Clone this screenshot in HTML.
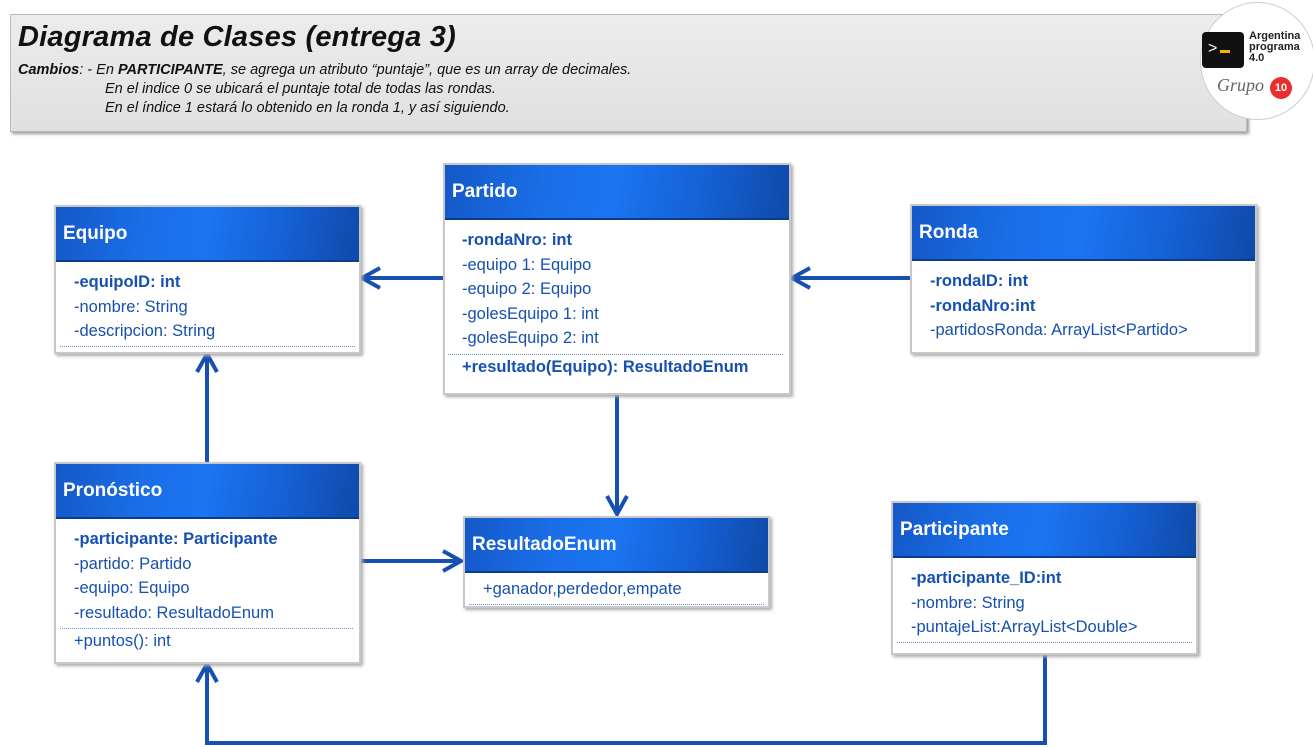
<!DOCTYPE html>
<html><head><meta charset="utf-8"><style>
body{margin:0;width:1313px;height:747px;background:#fff;position:relative;overflow:hidden;font-family:"Liberation Sans","DejaVu Sans",sans-serif}
.ban{position:absolute;left:10px;top:14px;width:1235px;height:116px;background:linear-gradient(#ececec,#e0e0e0);border:1px solid #bbb;box-shadow:2px 2px 3px #999;font-family:"Liberation Sans",sans-serif;font-style:italic}
.ban h1{margin:0;position:absolute;left:7px;top:6px;font-size:29px;font-weight:bold;color:#111;letter-spacing:0.2px}
.ban p{margin:0;position:absolute;left:7px;top:46px;font-size:14.5px;line-height:19px;color:#111}
.box{position:absolute;background:#fff;border:2px solid #c8c8c8;box-shadow:2px 2px 3px #aaa}
.hd{height:53px;background:linear-gradient(100deg,#1558c8 0%,#1a6fe8 30%,#1b74f0 50%,#1560d5 75%,#0f4aa8 100%);color:#fff;font-weight:bold;font-size:19px;line-height:54px;padding-left:7px;border-bottom:2px solid #0b3b8a}
.bd{padding:8px 0 0 18px;color:#1650b0;font-size:16.5px;line-height:24.5px;white-space:nowrap}
.b{font-weight:bold}
.sep{border-top:1px dotted #6b8fd0;margin:3px 6px 0 -14px}
.ul{border-bottom:1px dotted #6b8fd0;margin:0 4px 0 -14px;height:2px}
</style></head><body>
<div class="ban"><h1>Diagrama de Clases (entrega 3)</h1>
<p><b>Cambios</b>: - En <b>PARTICIPANTE</b>, se agrega un atributo “puntaje”, que es un array de decimales.<br>
<span style="padding-left:87px">En el indice 0 se ubicará el puntaje total de todas las rondas.</span><br>
<span style="padding-left:87px">En el índice 1 estará lo obtenido en la ronda 1, y así siguiendo.</span></p></div>
<div style="position:absolute;left:1200px;top:2px;width:113px;height:116px;border-radius:50%;background:#fff;border:1px solid #ccc"></div>
<div style="position:absolute;left:1202px;top:32px;width:42px;height:36px;background:#111;border-radius:4px;color:#fff;font-size:16px;line-height:34px;padding-left:6px;box-sizing:border-box">&gt;<span style="display:inline-block;width:10px;height:3px;background:#f6b000;margin-left:3px"></span></div>
<div style="position:absolute;left:1249px;top:31px;font-size:11px;line-height:11px;font-weight:bold;color:#222;font-family:'Liberation Sans',sans-serif">Argentina<br>programa<br>4.0</div>
<div style="position:absolute;left:1217px;top:75px;font-family:'Liberation Serif',serif;font-style:italic;font-size:18px;color:#666">Grupo</div>
<div style="position:absolute;left:1270px;top:77px;width:22px;height:22px;border-radius:50%;background:#e63030;color:#fff;font-size:11px;font-weight:bold;text-align:center;line-height:22px">10</div>

<svg style="position:absolute;left:0;top:0" width="1313" height="747">
<g stroke="#1650b0" stroke-width="4" fill="none">
<path d="M443 278H362M380 268L362 278L380 288"/>
<path d="M910 278H792M810 268L792 278L810 288"/>
<path d="M207 462V354M197 372L207 354L217 372"/>
<path d="M617 393V514M607 496L617 514L627 496"/>
<path d="M360 561H461M443 551L461 561L443 571"/>
<path d="M1045 653V743H207V664M197 682L207 664L217 682"/>
</g></svg>

<div class="box" style="left:54px;top:205px;width:303px;height:145px"><div class="hd">Equipo</div><div class="bd"><span class="b">-equipoID: int</span><br>-nombre: String<br>-descripcion: String<div class="ul"></div></div></div>
<div class="box" style="left:443px;top:163px;width:344px;height:228px"><div class="hd">Partido</div><div class="bd" style="padding-left:17px"><span class="b">-rondaNro: int</span><br>-equipo 1: Equipo<br>-equipo 2: Equipo<br>-golesEquipo 1: int<br>-golesEquipo 2: int<div class="sep"></div><span class="b">+resultado(Equipo): ResultadoEnum</span></div></div>
<div class="box" style="left:910px;top:204px;width:343px;height:146px"><div class="hd">Ronda</div><div class="bd"><span class="b">-rondaID: int</span><br><span class="b">-rondaNro:int</span><br>-partidosRonda: ArrayList&lt;Partido&gt;</div></div>
<div class="box" style="left:54px;top:462px;width:303px;height:198px"><div class="hd">Pronóstico</div><div class="bd"><span class="b">-participante: Participante</span><br>-partido: Partido<br>-equipo: Equipo<br>-resultado: ResultadoEnum<div class="sep"></div>+puntos(): int</div></div>
<div class="box" style="left:463px;top:516px;width:303px;height:88px"><div class="hd">ResultadoEnum</div><div class="bd" style="padding-top:4px">+ganador,perdedor,empate<div class="ul"></div></div></div>
<div class="box" style="left:891px;top:501px;width:303px;height:150px"><div class="hd">Participante</div><div class="bd"><span class="b">-participante_ID:int</span><br>-nombre: String<br>-puntajeList:ArrayList&lt;Double&gt;<div class="ul"></div></div></div>
</body></html>
